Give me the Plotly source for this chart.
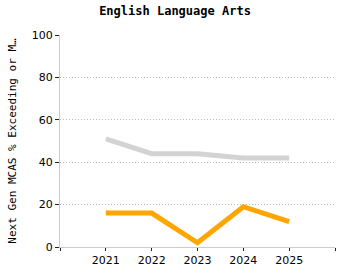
import plotly.graph_objects as go

years = [2021, 2022, 2023, 2024, 2025]
state_vals = [51, 44, 44, 42, 42]
school_vals = [16, 16, 2, 19, 12]
y_ticks = [0, 20, 40, 60, 80, 100]
x_ticks = [2020, 2021, 2022, 2023, 2024, 2025, 2026]
x_labels = ["", "2021", "2022", "2023", "2024", "2025", ""]

fig = go.Figure()
fig.add_trace(go.Scatter(x=years, y=state_vals, mode="lines",
                         line=dict(color="#d3d3d3", width=5), hoverinfo="skip"))
fig.add_trace(go.Scatter(x=years, y=school_vals, mode="lines",
                         line=dict(color="#ffa500", width=5), hoverinfo="skip"))

fig.update_layout(
    width=350, height=280,
    margin=dict(l=58, r=15, t=35, b=33),
    paper_bgcolor="white", plot_bgcolor="white",
    showlegend=False,
    font=dict(family="DejaVu Sans", size=11, color="black"),
    title=dict(text="<b>English Language Arts</b>", x=0.5, xanchor="center",
               y=0.96, yanchor="middle", font=dict(family="DejaVu Sans Mono", size=12)),
)
fig.update_xaxes(range=[2020, 2026], tickvals=x_ticks, ticktext=x_labels,
                 showgrid=False, zeroline=False, showline=True, linecolor="#cccccc",
                 linewidth=1, ticks="outside", ticklen=3, tickcolor="#222222",
                 tickfont=dict(size=11))
fig.update_yaxes(range=[0, 100], tickvals=y_ticks, showgrid=True, gridcolor="#bbbbbb",
                 griddash="1px,2px", gridwidth=1, zeroline=False, showline=True,
                 linecolor="#cccccc", linewidth=1, ticks="outside", ticklen=4,
                 tickcolor="#222222", tickfont=dict(size=11),
                 title=dict(text="Next Gen MCAS % Exceeding or M…", standoff=12,
                            font=dict(family="DejaVu Sans Mono", size=11)))

fig.write_html("out.html")
